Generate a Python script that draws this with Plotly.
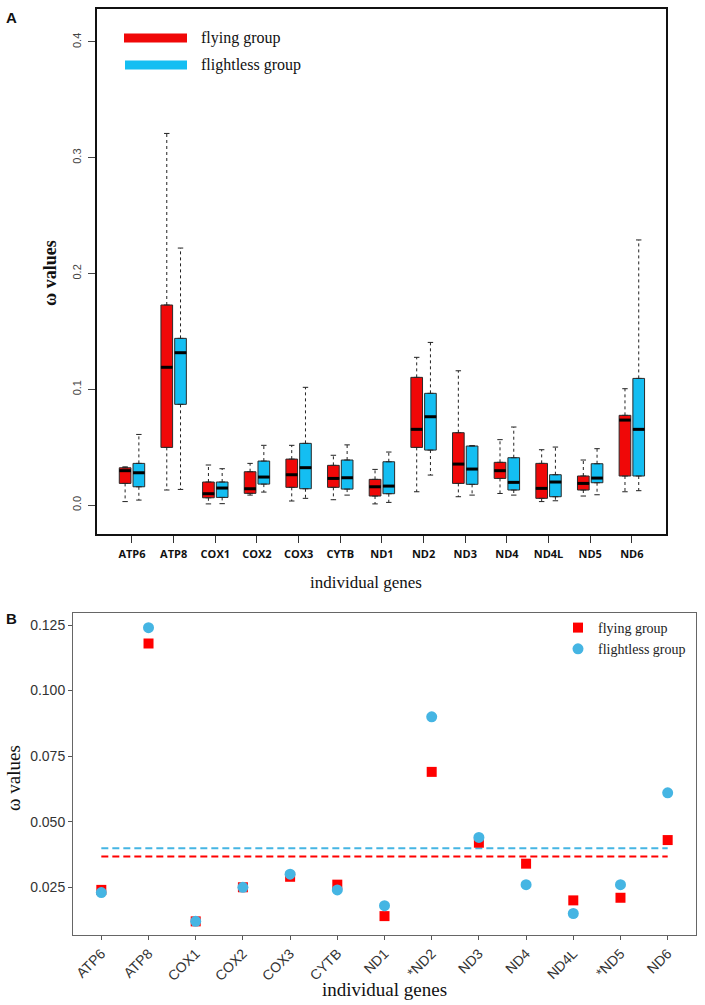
import plotly.graph_objects as go

genes_a = ["ATP6", "ATP8", "COX1", "COX2", "COX3", "CYTB", "ND1", "ND2", "ND3", "ND4", "ND4L", "ND5", "ND6"]
genes_b = ["ATP6", "ATP8", "COX1", "COX2", "COX3", "CYTB", "ND1", "*ND2", "ND3", "ND4", "ND4L", "*ND5", "ND6"]

# Panel A box statistics (omega values)
fly_low = [0.003, 0.013, 0.001, 0.0086, 0.0035, 0.0046, 0.001, 0.0115, 0.0072, 0.010, 0.003, 0.0078, 0.0115]
fly_q1 = [0.0187, 0.0498, 0.0063, 0.0101, 0.0153, 0.0153, 0.0078, 0.0498, 0.0187, 0.023, 0.0058, 0.013, 0.0251]
fly_med = [0.0297, 0.119, 0.0098, 0.0141, 0.0262, 0.023, 0.0158, 0.0654, 0.0354, 0.0297, 0.0144, 0.0187, 0.0734]
fly_q3 = [0.0322, 0.1728, 0.0199, 0.0288, 0.0397, 0.0343, 0.0222, 0.1103, 0.0625, 0.0369, 0.036, 0.0251, 0.0775]
fly_high = [0.033, 0.321, 0.0346, 0.036, 0.0516, 0.043, 0.0308, 0.1276, 0.116, 0.0565, 0.0478, 0.0389, 0.1005]

nof_low = [0.0043, 0.0135, 0.0012, 0.0112, 0.0058, 0.0086, 0.0023, 0.0259, 0.0086, 0.0086, 0.0037, 0.0089, 0.0124]
nof_q1 = [0.0158, 0.087, 0.0066, 0.0181, 0.0141, 0.0138, 0.0098, 0.0475, 0.0179, 0.013, 0.0072, 0.0193, 0.0251]
nof_med = [0.0279, 0.1316, 0.0147, 0.0242, 0.0323, 0.0236, 0.0164, 0.0763, 0.0311, 0.0196, 0.0199, 0.0233, 0.0654]
nof_q3 = [0.036, 0.144, 0.0199, 0.038, 0.0533, 0.0389, 0.0374, 0.0965, 0.051, 0.0409, 0.0262, 0.0357, 0.1094]
nof_high = [0.061, 0.222, 0.0314, 0.0516, 0.1017, 0.052, 0.0458, 0.1405, 0.0513, 0.0674, 0.0501, 0.0487, 0.229]

# Panel B mean omega values
fly_mean = [0.024, 0.118, 0.012, 0.025, 0.029, 0.026, 0.014, 0.069, 0.042, 0.034, 0.020, 0.021, 0.043]
nof_mean = [0.023, 0.124, 0.012, 0.025, 0.030, 0.024, 0.018, 0.090, 0.044, 0.026, 0.015, 0.026, 0.061]
fly_overall = 0.0367
nof_overall = 0.0399

RED_A = "#F00808"
BLUE_A = "#14BEF2"
RED_B = "#FF0000"
BLUE_B = "#45B5E3"
SERIF = "Liberation Serif, Times New Roman, serif"
SANS = "Liberation Sans, Arial, sans-serif"

fig = go.Figure()

OFF = 0.165
BW = 0.28


def add_group(low, q1, med, q3, high, offset, color):
    xs = [i + offset for i in range(len(genes_a))]
    fig.add_trace(go.Box(
        x=xs, q1=q1, median=med, q3=q3, lowerfence=q1, upperfence=q3,
        width=BW, fillcolor=color, line=dict(color="#2a2a2a", width=1),
        showlegend=False, hoverinfo="skip", xaxis="x", yaxis="y"))
    wx, wy, cx, cy, mx, my = [], [], [], [], [], []
    for x, a, b, c, d, m in zip(xs, low, q1, q3, high, med):
        wx += [x, x, None, x, x, None]
        wy += [c, d, None, b, a, None]
        cx += [x - 0.065, x + 0.065, None, x - 0.065, x + 0.065, None]
        cy += [d, d, None, a, a, None]
        mx += [x - BW / 2, x + BW / 2, None]
        my += [m, m, None]
    fig.add_trace(go.Scatter(x=wx, y=wy, mode="lines", line=dict(color="#222", width=1, dash="3px,3px"),
                             showlegend=False, hoverinfo="skip", xaxis="x", yaxis="y"))
    fig.add_trace(go.Scatter(x=cx, y=cy, mode="lines", line=dict(color="#222", width=1),
                             showlegend=False, hoverinfo="skip", xaxis="x", yaxis="y"))
    fig.add_trace(go.Scatter(x=mx, y=my, mode="lines", line=dict(color="#000", width=3),
                             showlegend=False, hoverinfo="skip", xaxis="x", yaxis="y"))


add_group(fly_low, fly_q1, fly_med, fly_q3, fly_high, -OFF, RED_A)
add_group(nof_low, nof_q1, nof_med, nof_q3, nof_high, OFF, BLUE_A)

# Panel B
n = len(genes_b)
fig.add_trace(go.Scatter(x=[0, n - 1], y=[nof_overall] * 2, mode="lines",
                         line=dict(color=BLUE_B, width=2, dash="7px,4px"),
                         showlegend=False, hoverinfo="skip", xaxis="x2", yaxis="y2"))
fig.add_trace(go.Scatter(x=[0, n - 1], y=[fly_overall] * 2, mode="lines",
                         line=dict(color=RED_B, width=2, dash="7px,4px"),
                         showlegend=False, hoverinfo="skip", xaxis="x2", yaxis="y2"))
fig.add_trace(go.Scatter(x=list(range(n)), y=fly_mean, mode="markers", name="flying group",
                         marker=dict(symbol="square", size=10, color=RED_B),
                         xaxis="x2", yaxis="y2"))
fig.add_trace(go.Scatter(x=list(range(n)), y=nof_mean, mode="markers", name="flightless group",
                         marker=dict(symbol="circle", size=11, color=BLUE_B),
                         xaxis="x2", yaxis="y2"))

W, H = 705, 1005


def px(x):
    return x / W


def py(y):
    return 1 - y / H


fig.update_layout(
    width=W, height=H, margin=dict(l=0, r=0, t=0, b=0), autosize=False,
    paper_bgcolor="white", plot_bgcolor="white",
    xaxis=dict(domain=[px(97), px(666)], anchor="y", range=[-0.84, 12.82], showgrid=False, zeroline=False,
               showline=True, mirror=True, linecolor="#111", linewidth=1.5,
               tickmode="array", tickvals=list(range(len(genes_a))),
               ticktext=["<b>%s</b>" % g for g in genes_a],
               ticks="outside", ticklen=7, tickcolor="#333", tickwidth=1, ticklabelstandoff=2,
               tickfont=dict(family="Open Sans, sans-serif", size=11, color="#111")),
    yaxis=dict(domain=[py(534), py(9)], anchor="x", range=[-0.025, 0.4285], showgrid=False, zeroline=False,
               showline=True, mirror=True, linecolor="#111", linewidth=1.5,
               tickmode="array", tickvals=[0, 0.1, 0.2, 0.3, 0.4],
               ticktext=["0.0", "0.1", "0.2", "0.3", "0.4"], tickangle=-90,
               ticks="outside", ticklen=7, tickcolor="#444", tickwidth=1, ticklabelstandoff=3,
               tickfont=dict(family=SANS, size=11, color="#444")),
    xaxis2=dict(domain=[px(73), px(696)], anchor="y2", range=[-0.6, 12.6], showgrid=False, zeroline=False,
                showline=True, mirror=True, linecolor="#666", linewidth=1,
                tickmode="array", tickvals=list(range(n)), ticktext=genes_b, tickangle=-45,
                ticks="outside", ticklen=4, tickcolor="#555", tickwidth=1,
                tickfont=dict(family=SANS, size=14, color="#333")),
    yaxis2=dict(domain=[py(935), py(612.7)], anchor="x2", range=[0.0068, 0.1297], showgrid=False, zeroline=False,
                showline=True, mirror=True, linecolor="#666", linewidth=1,
                tickmode="array", tickvals=[0.025, 0.05, 0.075, 0.1, 0.125],
                ticktext=["0.025", "0.050", "0.075", "0.100", "0.125"],
                ticks="outside", ticklen=4, tickcolor="#555", tickwidth=1,
                tickfont=dict(family=SANS, size=14, color="#333")),
    legend=dict(x=px(558), y=py(612), xanchor="left", yanchor="top",
                font=dict(family=SERIF, size=14, color="#222"), bgcolor="rgba(0,0,0,0)",
                tracegroupgap=0),
    showlegend=True,
)

# Panel A legend (keys drawn as thick lines, text as annotations)
fig.add_shape(type="line", xref="paper", yref="paper", x0=px(124), x1=px(187), y0=py(38), y1=py(38),
              line=dict(color=RED_A, width=9))
fig.add_shape(type="line", xref="paper", yref="paper", x0=px(125), x1=px(187), y0=py(65), y1=py(65),
              line=dict(color=BLUE_A, width=9))

annotations = [
    dict(text="flying group", x=px(199), y=py(38), xanchor="left", yanchor="middle",
         font=dict(family=SERIF, size=16, color="#111")),
    dict(text="flightless group", x=px(199), y=py(65), xanchor="left", yanchor="middle",
         font=dict(family=SERIF, size=16, color="#111")),
    dict(text="<b>ω values</b>", x=px(50), y=py(273), textangle=-90, xanchor="center", yanchor="middle",
         font=dict(family=SERIF, size=18, color="#111")),
    dict(text="individual genes", x=px(366), y=py(582), xanchor="center", yanchor="middle",
         font=dict(family=SERIF, size=17, color="#111")),
    dict(text="<b>A</b>", x=px(4), y=py(18), xanchor="left", yanchor="middle",
         font=dict(family=SANS, size=15, color="#111")),
    dict(text="<b>B</b>", x=px(4), y=py(618), xanchor="left", yanchor="middle",
         font=dict(family=SANS, size=15, color="#111")),
    dict(text="ω values", x=px(13), y=py(778), textangle=-90, xanchor="center", yanchor="middle",
         font=dict(family=SERIF, size=19, color="#111")),
    dict(text="individual genes", x=px(384), y=py(989), xanchor="center", yanchor="middle",
         font=dict(family=SERIF, size=19, color="#111")),
]
for a in annotations:
    a.update(xref="paper", yref="paper", showarrow=False)
    fig.add_annotation(**a)

fig.write_html("out.html", config={"displayModeBar": False},
               post_script="document.body.style.margin='0';document.body.style.padding='0';")
